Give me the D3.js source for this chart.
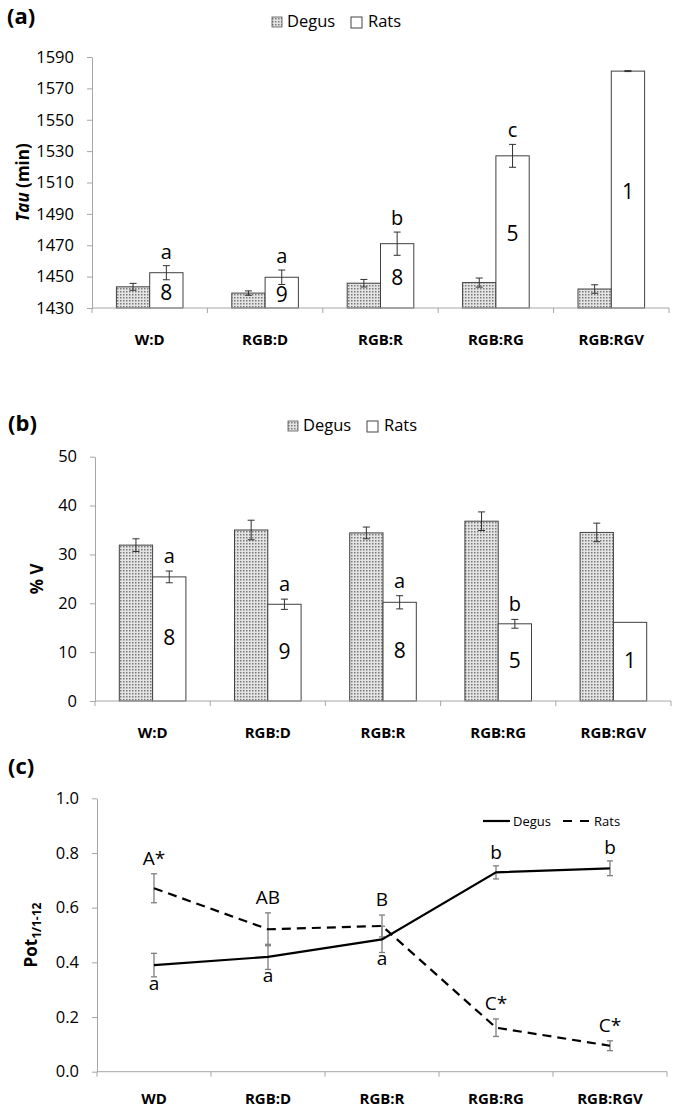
<!DOCTYPE html>
<html><head><meta charset="utf-8">
<script src="https://cdn.jsdelivr.net/npm/d3@7"></script>
<style>
body{margin:0;background:#fff;}
svg text{font-family:"Open Sans",sans-serif;fill:#000;}
</style></head><body>
<svg id="chart" width="675" height="1109"></svg>
<script>
// ---- data ----
const categoriesAB = ["W:D","RGB:D","RGB:R","RGB:RG","RGB:RGV"];
const categoriesC  = ["WD","RGB:D","RGB:R","RGB:RG","RGB:RGV"];
const seriesNames = ["Degus","Rats"];

const tauDegus    = [1443.5, 1439.5, 1445.8, 1446.2, 1442.1];
const tauDegusErr = [2.2, 1.4, 2.4, 2.9, 2.7];
const tauRats     = [1452.5, 1449.6, 1471.0, 1527.0, 1581.0];
const tauRatsErr  = [4.5, 4.6, 7.4, 7.3, 0.3];
const tauLetters  = ["a","a","b","c",""];
const tauTicks    = [1430,1450,1470,1490,1510,1530,1550,1570,1590];

const pctDegus    = [31.9, 35.0, 34.4, 36.8, 34.5];
const pctDegusErr = [1.3, 2.0, 1.2, 1.9, 1.9];
const pctRats     = [25.4, 19.8, 20.2, 15.8, 16.1];
const pctRatsErr  = [1.2, 1.05, 1.35, 0.9, 0];
const pctLetters  = ["a","a","a","b",""];
const pctTicks    = [0,10,20,30,40,50];

const ratsN = ["8","9","8","5","1"];

const potDegus    = [0.390, 0.420, 0.484, 0.729, 0.744];
const potDegusErr = [0.043, 0.046, 0.048, 0.024, 0.027];
const potRats     = [0.671, 0.521, 0.533, 0.161, 0.095];
const potRatsErr  = [0.053, 0.060, 0.040, 0.032, 0.018];
const potDegusLetters = ["a","a","a","b","b"];
const potRatsLetters  = ["A*","AB","B","C*","C*"];
const potTicks = [0,0.2,0.4,0.6,0.8,1.0];

// ---- drawing ----
const svg = d3.select("#chart");
const defs = svg.append("defs");
const pat = defs.append("pattern").attr("id","dots")
  .attr("width",3).attr("height",3).attr("patternUnits","userSpaceOnUse");
pat.append("rect").attr("width",3).attr("height",3).attr("fill","#e4e4e4");
pat.append("rect").attr("width",1.5).attr("height",1.5).attr("fill","#7a7a7a");

const AXIS = "#a6a6a6";

function panelLabel(txt, x, y){
  svg.append("text").attr("x",x).attr("y",y).attr("font-size",22)
    .attr("font-weight","bold").text(txt);
}

function yAxis(g, y, x0, fmt, ticks){
  const ax = g.append("g").attr("transform",`translate(${x0},0)`)
    .call(d3.axisLeft(y).tickValues(ticks).tickSize(5).tickSizeOuter(0).tickPadding(13).tickFormat(fmt));
  ax.select(".domain").attr("stroke",AXIS);
  ax.selectAll(".tick line").attr("stroke",AXIS);
  ax.selectAll(".tick text").attr("font-size",16.5).attr("font-family","Open Sans").attr("fill","#000");
}

function xAxis(g, x, yb, cats, labelPad){
  const ax = g.append("g").attr("transform",`translate(0,${yb})`)
    .call(d3.axisBottom(x).tickSize(0).tickPadding(labelPad));
  ax.select(".domain").remove();
  ax.selectAll(".tick text").attr("font-size",15).attr("font-weight","bold")
    .attr("font-family","Open Sans").attr("fill","#000");
  const [r0, r1] = x.range();
  g.append("line").attr("x1",r0).attr("x2",r1).attr("y1",yb).attr("y2",yb).attr("stroke",AXIS);
  g.selectAll(null).data(d3.range(cats.length+1)).join("line")
    .attr("x1",i=>r0 + i*x.step()).attr("x2",i=>r0 + i*x.step())
    .attr("y1",yb).attr("y2",yb+5).attr("stroke",AXIS);
}

function errBar(g, xs, ys, errs, y, color, cap, w){
  const d = xs.map((xv,i)=>({x:xv, lo:y(ys[i]-errs[i]), hi:y(ys[i]+errs[i])})).filter((d,i)=>errs[i]>0);
  const eg = g.append("g").attr("stroke",color).attr("stroke-width",w);
  eg.selectAll(null).data(d).join("line").attr("x1",d=>d.x).attr("x2",d=>d.x).attr("y1",d=>d.lo).attr("y2",d=>d.hi);
  eg.selectAll(null).data(d).join("line").attr("x1",d=>d.x-cap).attr("x2",d=>d.x+cap).attr("y1",d=>d.lo).attr("y2",d=>d.lo);
  eg.selectAll(null).data(d).join("line").attr("x1",d=>d.x-cap).attr("x2",d=>d.x+cap).attr("y1",d=>d.hi).attr("y2",d=>d.hi);
}

function barLegend(lx, ly){
  const g = svg.append("g").attr("transform",`translate(${lx},${ly})`);
  g.append("rect").attr("x",0).attr("y",-10).attr("width",10).attr("height",10)
    .attr("fill","url(#dots)").attr("stroke","#555").attr("stroke-width",0.8);
  g.append("text").attr("x",15).attr("y",0).attr("font-size",16.5).text(seriesNames[0]);
  g.append("rect").attr("x",79).attr("y",-10).attr("width",11).attr("height",11)
    .attr("fill","#fff").attr("stroke","#444").attr("stroke-width",1);
  g.append("text").attr("x",96).attr("y",0).attr("font-size",16.5).text(seriesNames[1]);
}

function barPanel(o){
  const g = svg.append("g");
  const x = d3.scaleBand().domain(categoriesAB).range([o.x0,o.x1]).paddingInner(0).paddingOuter(0);
  const y = d3.scaleLinear().domain(o.domain).range([o.yb,o.yt]);
  const bw = 33.3;
  const cx = c => x(c) + x.bandwidth()/2;
  const dx = categoriesAB.map(c=>cx(c)-bw/2);
  const rx = categoriesAB.map(c=>cx(c)+bw/2);
  g.selectAll(null).data(o.degus).join("rect")
    .attr("x",(d,i)=>cx(categoriesAB[i])-bw).attr("width",bw)
    .attr("y",d=>y(d)).attr("height",d=>o.yb-y(d))
    .attr("fill","url(#dots)").attr("stroke","#404040").attr("stroke-width",1);
  g.selectAll(null).data(o.rats).join("rect")
    .attr("x",(d,i)=>cx(categoriesAB[i])).attr("width",bw)
    .attr("y",d=>y(d)).attr("height",d=>o.yb-y(d))
    .attr("fill","#fff").attr("stroke","#404040").attr("stroke-width",1);
  yAxis(g, y, o.x0, o.fmt, o.ticks);
  xAxis(g, x, o.yb, categoriesAB, o.labelPad);
  errBar(g, dx, o.degus, o.degusErr, y, "#303030", 3.5, 1);
  errBar(g, rx, o.rats, o.ratsErr, y, "#303030", 3.5, 1);
  // letters
  g.selectAll(null).data(o.letters).join("text")
    .attr("x",(d,i)=>rx[i]).attr("y",(d,i)=>y(o.rats[i]+o.ratsErr[i]) - o.letterGap)
    .attr("text-anchor","middle").attr("font-size",20).text(d=>d);
  // n inside bars
  g.selectAll(null).data(ratsN).join("text")
    .attr("x",(d,i)=>rx[i]).attr("y",(d,i)=>(y(o.rats[i])+o.yb)/2 + o.nShift)
    .attr("text-anchor","middle").attr("dominant-baseline","central")
    .attr("font-size",21).text(d=>d);
  // y label
  const t = svg.append("text").attr("transform",`translate(${o.ylx},${(o.yb+o.yt)/2}) rotate(-90)`)
    .attr("text-anchor","middle").attr("font-size",17).attr("font-weight","bold");
  o.ylabel(t);
}

// Panel (a)
panelLabel("(a)", 7, 24);
barLegend(272, 27);
barPanel({x0:92, x1:669, yb:308, yt:57, domain:[1430,1590], ticks:tauTicks, fmt:d3.format("d"),
  degus:tauDegus, degusErr:tauDegusErr, rats:tauRats, ratsErr:tauRatsErr, letters:tauLetters,
  letterGap:7, nShift:1.5, labelPad:26, ylx:29,
  ylabel: t => { t.append("tspan").attr("font-style","italic").text("Tau"); t.append("tspan").text(" (min)"); }});

// Panel (b)
panelLabel("(b)", 8, 431);
barLegend(288, 431);
barPanel({x0:95, x1:671, yb:701, yt:456.7, domain:[0,50], ticks:pctTicks, fmt:d3.format("d"),
  degus:pctDegus, degusErr:pctDegusErr, rats:pctRats, ratsErr:pctRatsErr, letters:pctLetters,
  letterGap:8, nShift:-2, labelPad:26, ylx:43,
  ylabel: t => { t.text("% V"); }});

// Panel (c)
panelLabel("(c)", 8, 774);
(function(){
  const g = svg.append("g");
  const x0 = 97, x1 = 667, yb = 1071.7, yt = 798.3;
  const x = d3.scaleBand().domain(categoriesC).range([x0,x1]);
  const y = d3.scaleLinear().domain([0,1]).range([yb,yt]);
  const px = categoriesC.map(c => x(c)+x.bandwidth()/2);
  yAxis(g, y, x0, d3.format(".1f"), potTicks);
  xAxis(g, x, yb, categoriesC, 22);
  errBar(g, px, potDegus, potDegusErr, y, "#7f7f7f", 3, 1.3);
  errBar(g, px, potRats, potRatsErr, y, "#7f7f7f", 3, 1.3);
  const line = d3.line().x((d,i)=>px[i]).y(d=>y(d));
  g.append("path").attr("d",line(potRats)).attr("fill","none").attr("stroke","#000")
    .attr("stroke-width",2.2).attr("stroke-dasharray","9,6");
  g.append("path").attr("d",line(potDegus)).attr("fill","none").attr("stroke","#000")
    .attr("stroke-width",2.2);
  g.selectAll(null).data(potRatsLetters).join("text")
    .attr("x",(d,i)=>px[i]).attr("y",(d,i)=>y(potRats[i]+potRatsErr[i]) - 9)
    .attr("text-anchor","middle").attr("font-size",19).text(d=>d);
  g.selectAll(null).data(potDegusLetters).join("text")
    .attr("x",(d,i)=>px[i])
    .attr("y",(d,i)=> d==="b" ? y(potDegus[i]+potDegusErr[i]) - 7 : y(potDegus[i]-potDegusErr[i]) + 13)
    .attr("text-anchor","middle").attr("font-size",19).text(d=>d);
  // legend
  const lg = svg.append("g").attr("transform","translate(483,821)");
  lg.append("line").attr("x1",0).attr("x2",27).attr("stroke","#000").attr("stroke-width",2.2);
  lg.append("text").attr("x",30).attr("y",4.5).attr("font-size",13).text(seriesNames[0]);
  lg.append("line").attr("x1",80).attr("x2",106).attr("stroke","#000").attr("stroke-width",2.2)
    .attr("stroke-dasharray","9,8");
  lg.append("text").attr("x",111).attr("y",4.5).attr("font-size",13).text(seriesNames[1]);
  // y label
  const t = svg.append("text").attr("transform",`translate(37,${(yb+yt)/2}) rotate(-90)`)
    .attr("text-anchor","middle").attr("font-size",17).attr("font-weight","bold");
  t.append("tspan").text("Pot");
  t.append("tspan").attr("font-size",12).attr("dy",4).text("1/1-12");
})();
</script>
</body></html>
